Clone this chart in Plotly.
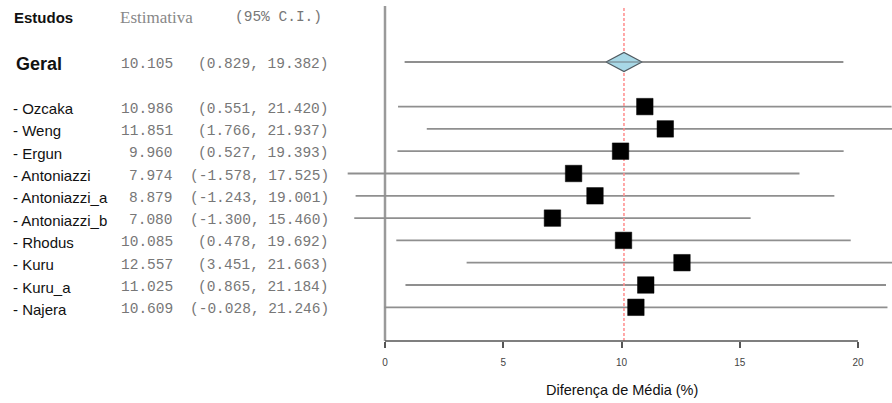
import plotly.graph_objects as go

# Study-level estimates (mean difference, %) with 95% confidence intervals
studies = ["Ozcaka", "Weng", "Ergun", "Antoniazzi", "Antoniazzi_a",
           "Antoniazzi_b", "Rhodus", "Kuru", "Kuru_a", "Najera"]
est = [10.986, 11.851, 9.960, 7.974, 8.879, 7.080, 10.085, 12.557, 11.025, 10.609]
lo = [0.551, 1.766, 0.527, -1.578, -1.243, -1.300, 0.478, 3.451, 0.865, -0.028]
hi = [21.420, 21.937, 19.393, 17.525, 19.001, 15.460, 19.692, 21.663, 21.184, 21.246]

# Pooled estimate
overall_label = "Geral"
overall_est = 10.105
overall_lo = 0.829
overall_hi = 19.382

x_ticks = [0, 5, 10, 15, 20]
x_title = "Diferença de Média (%)"

W, H = 892, 403
PLOT_BOTTOM = 341          # pixel row of the x axis
ROW0, ROW_STEP = 62, 22.3  # pixel of pooled row and spacing between rows
X0, X_STEP = 385, 23.65    # pixel of x = 0 and pixels per unit


def py_to_row(py):
    return (py - ROW0) / ROW_STEP


def px_paper(px):
    return px / W


overall_row = 0
study_rows = [2 + i for i in range(len(studies))]
header_row = -2
top_row = py_to_row(0)
bottom_row = py_to_row(PLOT_BOTTOM)

fig = go.Figure()

# Confidence interval segments
ci_x, ci_y = [overall_lo, overall_hi, None], [overall_row, overall_row, None]
for r, a, b in zip(study_rows, lo, hi):
    ci_x += [a, b, None]
    ci_y += [r, r, None]
fig.add_trace(go.Scatter(x=ci_x, y=ci_y, mode="lines",
                         line=dict(color="#8f8f8f", width=1.8),
                         hoverinfo="skip", showlegend=False))

# Dashed reference line at the pooled estimate (over the CI lines, under the marks)
fig.add_trace(go.Scatter(x=[overall_est, overall_est], y=[py_to_row(8), bottom_row],
                         mode="lines",
                         line=dict(color="#ff8c8c", width=1.5, dash="3px,2px"),
                         hoverinfo="skip", showlegend=False, cliponaxis=False))

# Pooled diamond
dw, dh = 0.76, 0.43
fig.add_trace(go.Scatter(
    x=[overall_est - dw, overall_est, overall_est + dw, overall_est, overall_est - dw],
    y=[overall_row, overall_row - dh, overall_row, overall_row + dh, overall_row],
    mode="lines", fill="toself", fillcolor="#a8d8e6",
    line=dict(color="#505a60", width=1.2),
    hoverinfo="skip", showlegend=False))
# line through the diamond
fig.add_trace(go.Scatter(x=[overall_est - dw, overall_est + dw], y=[overall_row, overall_row],
                         mode="lines", line=dict(color="#6f7a80", width=1.2),
                         hoverinfo="skip", showlegend=False))

# Study point estimates
fig.add_trace(go.Scatter(x=est, y=study_rows, mode="markers",
                         marker=dict(symbol="square", size=16.5, color="black",
                                     line=dict(color="black", width=0.5)),
                         text=studies, hovertemplate="%{text}: %{x:.3f}<extra></extra>",
                         showlegend=False))

shapes = [
    # vertical reference line at zero
    dict(type="line", xref="x", yref="y", x0=0, x1=0, y0=py_to_row(6), y1=bottom_row,
         line=dict(color="#9a9a9a", width=2.5), layer="below"),
    # x axis baseline between first and last tick
    dict(type="line", xref="x", yref="paper", x0=x_ticks[0], x1=x_ticks[-1], y0=0, y1=0,
         line=dict(color="#555555", width=1.5)),
]

ann = []
sans = "Liberation Sans, Arial, sans-serif"
mono = "Liberation Mono, Courier New, monospace"
serif = "Liberation Serif, Times New Roman, serif"

# Header
ann.append(dict(x=px_paper(12), y=header_row, text="<b>Estudos</b>", xanchor="left",
                font=dict(family=sans, size=15, color="#111")))
ann.append(dict(x=px_paper(118), y=header_row, text="Estimativa", xanchor="left",
                font=dict(family=serif, size=17, color="#888")))
ann.append(dict(x=px_paper(233), y=header_row, text="(95% C.I.)", xanchor="left",
                font=dict(family=mono, size=14.5, color="#777")))

# Pooled row
ann.append(dict(x=px_paper(14), y=overall_row, text="<b>" + overall_label + "</b>",
                xanchor="left", yshift=-2,
                font=dict(family=sans, size=18, color="#111")))
ann.append(dict(x=px_paper(175), y=overall_row, text=f"{overall_est:.3f}", xanchor="right",
                yshift=-2, font=dict(family=mono, size=14.5, color="#777")))
ann.append(dict(x=px_paper(331), y=overall_row,
                text=f"({overall_lo:.3f}, {overall_hi:.3f})", xanchor="right",
                yshift=-2, font=dict(family=mono, size=14.5, color="#777")))

# Study rows
for r, name, e, a, b in zip(study_rows, studies, est, lo, hi):
    ann.append(dict(x=px_paper(11), y=r, text="- " + name, xanchor="left", yshift=-2,
                    font=dict(family=sans, size=15, color="#111")))
    ann.append(dict(x=px_paper(175), y=r, text=f"{e:.3f}", xanchor="right", yshift=-2,
                    font=dict(family=mono, size=14.5, color="#777")))
    ann.append(dict(x=px_paper(331), y=r, text=f"({a:.3f}, {b:.3f})", xanchor="right",
                    yshift=-2, font=dict(family=mono, size=14.5, color="#777")))

for a in ann:
    a.update(xref="paper", yref="y", showarrow=False, yanchor="middle")

# Axis title centred under the axis
ann.append(dict(x=(x_ticks[0] + x_ticks[-1]) / 2, y=-(390 - PLOT_BOTTOM) / PLOT_BOTTOM,
                xref="x", yref="paper", text=x_title, showarrow=False,
                xanchor="center", yanchor="middle",
                font=dict(family=sans, size=14.5, color="#111")))

fig.update_layout(
    width=W, height=H,
    margin=dict(l=0, r=0, t=0, b=H - PLOT_BOTTOM, pad=0),
    paper_bgcolor="white", plot_bgcolor="white",
    shapes=shapes, annotations=ann,
    xaxis=dict(range=[-X0 / X_STEP, (W - X0) / X_STEP], showgrid=False, zeroline=False,
               showline=False, tickvals=x_ticks, ticks="outside", ticklen=6,
               tickwidth=1.5, tickcolor="#555", ticklabelstandoff=6,
               tickfont=dict(family=sans, size=10, color="#444"), fixedrange=True),
    yaxis=dict(range=[bottom_row, top_row], showgrid=False, zeroline=False,
               showline=False, showticklabels=False, ticks="", fixedrange=True),
)

fig.write_html("out.html")
